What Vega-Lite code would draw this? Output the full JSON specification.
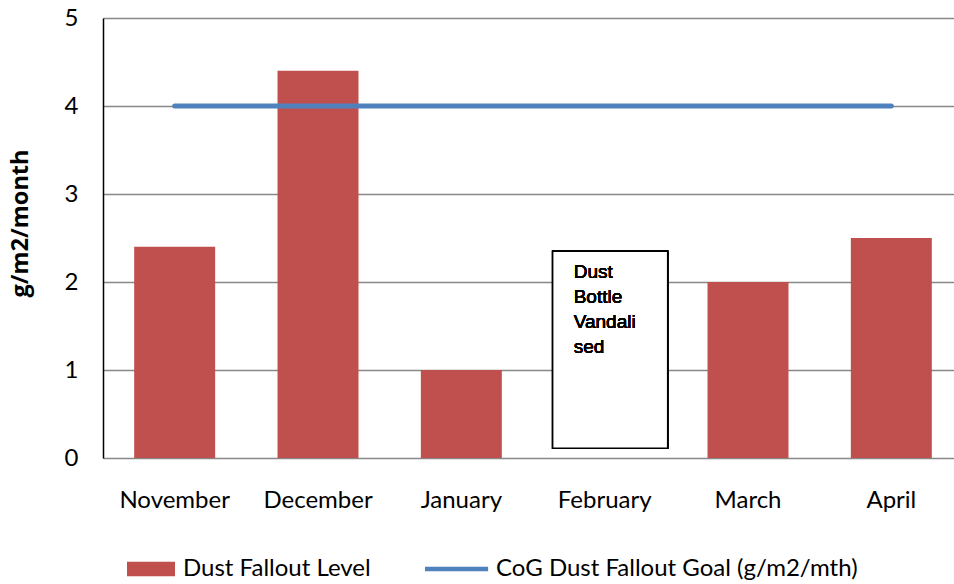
{
  "$schema": "https://vega.github.io/schema/vega-lite/v6.json",
  "autosize": {"type": "none"},
  "width": 860,
  "height": 440,
  "padding": {"left": 103, "top": 18, "right": 0, "bottom": 126},
  "background": "white",
  "config": {
    "view": {"stroke": null},
    "font": "Lato",
    "axis": {"labelFont": "Lato", "labelColor": "black", "titleColor": "black"}
  },
  "data": {
    "values": [
      {"month": "November", "level": 2.4, "goal": 4},
      {"month": "December", "level": 4.4, "goal": 4},
      {"month": "January", "level": 1.0, "goal": 4},
      {"month": "February", "level": null, "goal": 4},
      {"month": "March", "level": 2.0, "goal": 4},
      {"month": "April", "level": 2.5, "goal": 4}
    ]
  },
  "layer": [
    {
      "mark": {"type": "bar", "color": "#C0504D"},
      "encoding": {
        "x": {
          "field": "month", "type": "nominal",
          "sort": ["November", "December", "January", "February", "March", "April"],
          "scale": {"domain": ["November", "December", "January", "February", "March", "April"], "paddingInner": 0.435, "paddingOuter": 0.2175},
          "axis": {"title": null, "labelAngle": 0, "labelFontSize": 24, "labelPadding": 30, "ticks": false, "domain": false}
        },
        "y": {
          "field": "level", "type": "quantitative",
          "scale": {"domain": [0, 5], "nice": false},
          "axis": {
            "values": [0, 1, 2, 3, 4, 5], "format": "d", "title": "g/m2/month", "titleFont": "Open Sans", "titleFontSize": 23.5, "titleFontWeight": "bold", "titlePadding": 32, "titleY": 205,
            "labelFontSize": 24, "labelPadding": 25, "ticks": false,
            "domainColor": "black", "domainWidth": 1.5,
            "grid": true, "gridColor": "#888888", "gridWidth": 1.4
          }
        },
        "color": {
          "datum": "Dust Fallout Level", "type": "nominal",
          "scale": {"domain": ["Dust Fallout Level", "CoG Dust Fallout Goal (g/m2/mth)"], "range": ["#C0504D", "#4F81BD"]},
          "legend": {
            "title": null, "orient": "none", "direction": "horizontal", "legendX": 24, "legendY": 527,
            "labelFontSize": 24, "labelFont": "Lato", "labelColor": "black", "labelOffset": 8, "labelLimit": 500, "columnPadding": 54,
            "symbolSize": 2304, "symbolStrokeWidth": 0,
            "encode": {
              "symbols": {
                "update": {
                  "shape": {"signal": "datum.value === 'Dust Fallout Level' ? 'M-1,-0.3H1V0.3H-1Z' : 'M-1,-0.09H1.63V0.09H-1Z'"},
                  "fill": {"scale": "color", "field": "value"},
                  "opacity": {"value": 1},
                  "strokeWidth": {"value": 0}
                }
              },
              "labels": {
                "update": {
                  "dx": {"signal": "datum.value === 'Dust Fallout Level' ? 0 : 15"}
                }
              }
            }
          }
        }
      }
    },
    {
      "mark": {"type": "line", "strokeWidth": 5, "strokeCap": "round", "color": "#4F81BD"},
      "encoding": {
        "x": {"field": "month", "type": "nominal", "sort": ["November", "December", "January", "February", "March", "April"]},
        "y": {"field": "goal", "type": "quantitative"},
        "color": {"datum": "CoG Dust Fallout Goal (g/m2/mth)", "type": "nominal"}
      }
    },
    {
      "mark": {"type": "bar", "fill": "white", "stroke": "black", "strokeWidth": 1.5, "width": 115, "xOffset": 5.5},
      "encoding": {
        "x": {"datum": "February", "type": "nominal"},
        "y": {"datum": 2.35, "type": "quantitative"},
        "y2": {"datum": 0.11}
      }
    },
    {
      "mark": {"type": "text", "align": "left", "baseline": "top", "font": "Liberation Sans", "fontWeight": "normal", "fontSize": 19, "lineHeight": 25, "dx": -31, "dy": 12, "color": "black"},
      "encoding": {
        "x": {"datum": "February", "type": "nominal"},
        "y": {"datum": 2.35, "type": "quantitative"},
        "text": {"value": ["Dust", "Bottle", "Vandali", "sed"]}
      }
    }
  ]
}
